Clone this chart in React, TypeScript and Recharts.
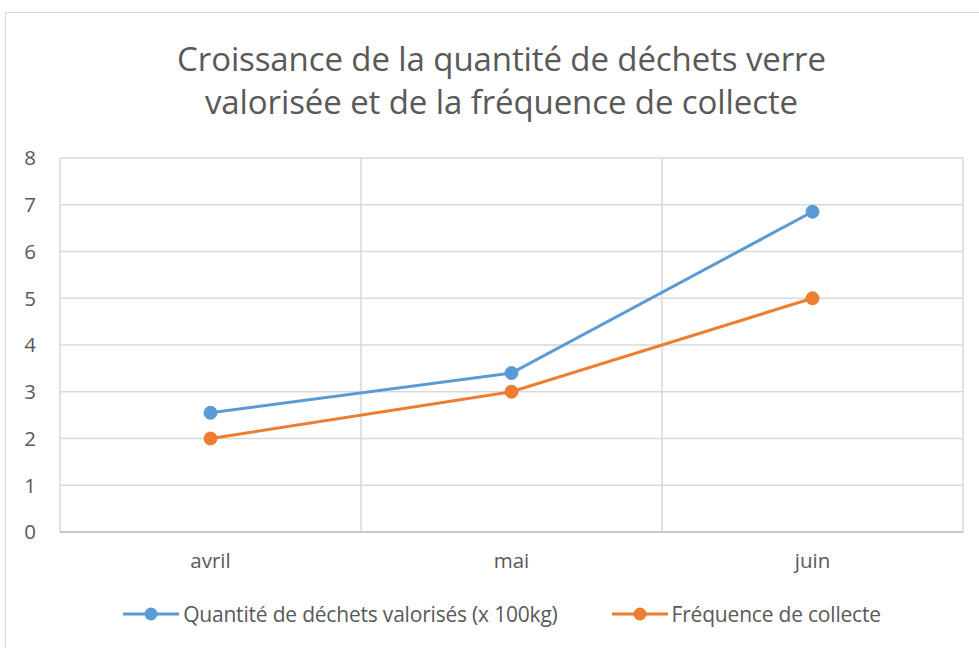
import React from 'react';
import { LineChart, Line, XAxis, YAxis, CartesianGrid } from 'recharts';

const months = ['avril', 'mai', 'juin'];
const quantite = [2.55, 3.4, 6.85];
const frequence = [2, 3, 5];
const yTicks = [0, 1, 2, 3, 4, 5, 6, 7, 8];
const titleLines = ['Croissance de la quantité de déchets verre', 'valorisée et de la fréquence de collecte'];
const seriesNames = ['Quantité de déchets valorisés (x 100kg)', 'Fréquence de collecte'];
const seriesColors = ['#5B9BD5', '#ED7D31'];

const data = months.map((m, i) => ({ month: m, q: quantite[i], f: frequence[i] }));

const FONT = "'Open Sans', sans-serif";
const TEXT = '#595959';

export default function App() {
  return (
    <div style={{ position: 'absolute', left: 0, top: 0, width: 979, height: 648, overflow: 'hidden', background: '#fff' }}>
      <div style={{ position: 'absolute', left: 5, top: 12, width: 990, height: 660, border: '1.5px solid #d9d9d9', boxSizing: 'border-box' }} />
      <div style={{ position: 'absolute', left: 0, top: 37, width: 1003, textAlign: 'center', fontFamily: FONT, fontSize: 33, color: TEXT, lineHeight: '43px', letterSpacing: -0.1 }}>
        {titleLines.map((t) => (<div key={t}>{t}</div>))}
      </div>
      <div style={{ position: 'absolute', left: 0, top: 0 }}>
        <LineChart width={979} height={648} data={data} margin={{ top: 158, right: 16, bottom: 76, left: 20 }}>
          <CartesianGrid
            stroke="#d9d9d9"
            strokeWidth={1.5}
            verticalCoordinatesGenerator={({ offset }: any) => months.map((_, i) => offset.left + (i * offset.width) / months.length).concat([offset.left + offset.width])}
          />
          <XAxis
            dataKey="month"
            scale="band"
            axisLine={{ stroke: '#bfbfbf', strokeWidth: 1.5 }}
            tickLine={false}
            tick={{ fill: TEXT, fontSize: 20.5, fontFamily: FONT }}
            tickMargin={15}
            height={40}
          />
          <YAxis
            domain={[0, 8]}
            ticks={yTicks}
            axisLine={false}
            tickLine={false}
            width={40}
            tick={{ fill: TEXT, fontSize: 20.5, fontFamily: FONT }}
            tickMargin={18}
          />
          <Line name={seriesNames[0]} dataKey="q" stroke={seriesColors[0]} strokeWidth={3} dot={{ r: 6.5, fill: seriesColors[0], stroke: seriesColors[0], strokeWidth: 1 }} isAnimationActive={false} />
          <Line name={seriesNames[1]} dataKey="f" stroke={seriesColors[1]} strokeWidth={3} dot={{ r: 6.5, fill: seriesColors[1], stroke: seriesColors[1], strokeWidth: 1 }} isAnimationActive={false} />
        </LineChart>
      </div>
      <div style={{ position: 'absolute', left: 0, top: 600, width: 1003, display: 'flex', justifyContent: 'center', gap: 53, fontFamily: FONT, fontSize: 21, color: TEXT, letterSpacing: -0.2 }}>
        {seriesNames.map((n, i) => (
          <div key={n} style={{ display: 'flex', alignItems: 'center' }}>
            <svg width={58} height={16} style={{ marginRight: 3 }}>
              <line x1={1} y1={8} x2={57} y2={8} stroke={seriesColors[i]} strokeWidth={3} />
              <circle cx={29} cy={8} r={6.5} fill={seriesColors[i]} />
            </svg>
            <span>{n}</span>
          </div>
        ))}
      </div>
    </div>
  );
}
